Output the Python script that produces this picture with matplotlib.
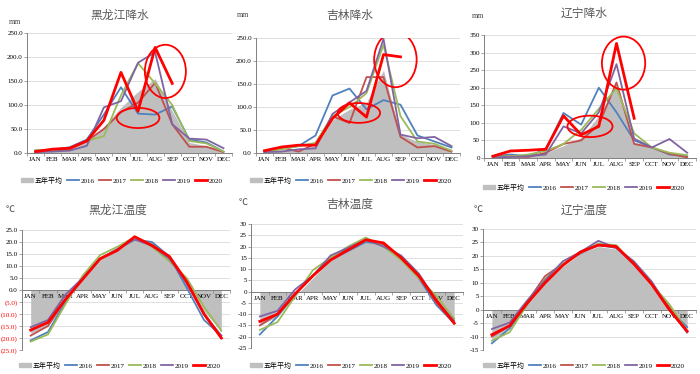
import matplotlib
matplotlib.use('Agg')
import matplotlib.pyplot as plt
from matplotlib.patches import Ellipse, Patch
from matplotlib.lines import Line2D

plt.rcParams['font.family'] = ['Liberation Serif', 'Noto Sans CJK SC']

months = ['JAN', 'FEB', 'MAR', 'APR', 'MAY', 'JUN', 'JUL', 'AUG', 'SEP', 'OCT', 'NOV', 'DEC']
legend_names = ['五年平均', '2016', '2017', '2018', '2019', '2020']

# precipitation (mm); rows = 2016..2020
hlj_rain_avg = [4, 6, 10, 24, 55, 95, 128, 155, 88, 22, 15, 5]
hlj_rain = [[5, 7, 12, 28, 80, 137, 82, 80, 97, 28, 22, 3],
            [3, 5, 8, 25, 50, 85, 105, 146, 60, 13, 13, 2],
            [6, 6, 10, 25, 35, 120, 187, 145, 100, 25, 20, 3],
            [2, 3, 5, 15, 95, 108, 188, 210, 60, 30, 28, 10],
            [3, 8, 10, 25, 68, 168, 87, 220, 145]]

jl_rain_avg = [3, 7, 10, 15, 72, 95, 110, 180, 40, 25, 18, 8]
jl_rain = [[3, 10, 15, 38, 125, 140, 95, 115, 105, 38, 25, 12],
           [2, 12, 3, 20, 80, 65, 165, 165, 35, 12, 15, 3],
           [3, 8, 15, 22, 80, 100, 130, 235, 80, 25, 20, 5],
           [2, 3, 8, 10, 85, 110, 135, 248, 40, 32, 35, 15],
           [5, 13, 17, 17, 75, 109, 78, 214, 209]]

ln_rain_avg = [3, 8, 10, 15, 35, 58, 120, 210, 45, 30, 10, 5]
ln_rain = [[5, 10, 5, 25, 128, 95, 200, 130, 50, 30, 10, 5],
           [3, 5, 3, 15, 40, 50, 95, 215, 40, 30, 12, 2],
           [3, 5, 10, 20, 40, 80, 140, 199, 70, 30, 15, 8],
           [2, 3, 5, 10, 90, 70, 130, 267, 55, 30, 54, 15],
           [5, 20, 22, 25, 120, 66, 90, 326, 113]]

# temperature (C)
hlj_temp_avg = [-18, -15, -5, 5, 13, 17, 21, 19, 13, 4, -9, -17]
hlj_temp = [[-21, -17.5, -5, 5, 13, 17, 21, 20, 14, 1, -12.5, -19],
            [-19, -15, -4, 5, 13, 17, 22, 19, 13.5, 3, -10, -20],
            [-21.5, -18.5, -6, 6, 14.5, 18, 22, 18, 12, 5, -7, -17],
            [-15.5, -12.5, -2, 5, 13, 17, 21, 18.5, 13, 3, -10, -19],
            [-16.7, -13.5, -4, 4.5, 13, 16.5, 22.2, 18.5, 14, 3.5, -10, -20]]

jl_temp_avg = [-15, -11, -2, 6, 14, 18, 22, 21, 14, 6, -4, -13]
jl_temp = [[-19, -11, -1, 7, 14, 18, 22, 21, 15, 6, -6, -14],
           [-15, -10, -1, 7, 15, 19, 23, 21, 15, 7, -5, -14],
           [-17, -13.5, -2, 9.5, 15, 20, 24, 20, 14, 6, -2, -12],
           [-11, -8.5, 1, 7, 16, 19.5, 23, 20, 16, 8, -4, -13],
           [-13.2, -10, -1, 7, 14, 18.5, 23, 21.6, 15, 7, -4, -14]]

ln_temp_avg = [-11, -7, 2, 10, 16, 21, 23.5, 22.5, 17, 10, 1, -7]
ln_temp = [[-12.5, -7, 2, 11, 17, 21, 24, 23, 17, 10, 0, -6.5],
           [-10, -6, 3, 12.5, 17, 21, 24.5, 23, 17.5, 10, 1, -8],
           [-11.5, -8.4, 2, 11.5, 17, 21.5, 24.5, 24, 17, 9.5, 2, -8],
           [-7.2, -4.8, 3.5, 11, 18, 21.5, 25.6, 23, 18, 10.5, 0, -8.5],
           [-9.3, -6, 2.5, 10, 16.5, 21.5, 24, 23.5, 17, 9.5, 0, -8]]

# red circles drawn on the rain charts: (x, y, width, height)
hlj_marks = [(6.0, 73, 2.5, 42), (7.6, 170, 2.4, 111)]
jl_marks = [(5.55, 87, 2.5, 43), (7.7, 203, 2.5, 120)]
ln_marks = [(5.5, 90, 2.55, 61), (7.4, 270, 2.45, 151)]

avg_color = '#BFBFBF'
colors = ['#4F81BD', '#C0504D', '#9BBB59', '#8064A2', '#FF0000']
widths = [1.3, 1.3, 1.3, 1.3, 2.0]
tick_font = 5

W, H = 700, 374
fig = plt.figure(figsize=(W / 100, H / 100), dpi=100)


def px_axes(x0, x1, y0, y1):
    return fig.add_axes([x0 / W, 1 - y1 / H, (x1 - x0) / W, (y1 - y0) / H])


def fig_text(x, y, s, **kw):
    fig.text(x / W, 1 - y / H, s, ha='center', va='center', **kw)


def draw_panel(ax, avg, years, ylim, yticks, ylabels, temp=False):
    x = list(range(12))
    for t in yticks:
        ax.axhline(t, color='#D9D9D9', lw=0.6, zorder=0.2)
    ax.fill_between(x, avg, 0, color=avg_color, lw=0, zorder=1)
    for vals, c, lw in zip(years, colors, widths):
        ax.plot(range(len(vals)), vals, color=c, lw=lw, zorder=3)
    ax.set_xlim(-0.5, 11.5)
    ax.set_ylim(*ylim)
    ax.set_yticks(yticks, ylabels)
    ax.set_xticks(x, months)
    ax.set_xticks([i - 0.5 for i in range(13)], minor=True)
    ax.tick_params(axis='x', which='major', length=0, labelsize=tick_font, pad=3)
    ax.tick_params(axis='x', which='minor', length=2.5, width=0.5, color='#808080')
    ax.tick_params(axis='y', length=2, width=0.5, color='#808080', labelsize=tick_font, pad=1)
    ax.set_axisbelow('line')
    for s in ['top', 'right']:
        ax.spines[s].set_visible(False)
    ax.spines['left'].set_color('#808080')
    ax.spines['left'].set_linewidth(0.7)
    ax.spines['bottom'].set_color('#808080')
    ax.spines['bottom'].set_linewidth(0.7)
    if temp:
        ax.spines['bottom'].set_position(('data', 0))
    ax.patch.set_alpha(0)


def add_marks(ax, marks):
    for (cx, cy, w, h) in marks:
        ax.add_patch(Ellipse((cx, cy), w, h, fill=False, edgecolor='#FF0000', lw=1.3, zorder=4))


def add_legend(cx, cy):
    handles = [Patch(color=avg_color)] + [Line2D([], [], color=c, lw=lw) for c, lw in zip(colors, widths)]
    fig.legend(handles, legend_names, loc='center', bbox_to_anchor=(cx / W, 1 - cy / H),
               ncol=6, frameon=False, fontsize=5, handlelength=1.7, handleheight=0.6,
               columnspacing=0.6, handletextpad=0.3, borderaxespad=0, borderpad=0)


title_kw = dict(fontsize=8.5, color='#595959', family=['Noto Sans CJK SC'])
unit_kw = dict(fontsize=5.5, color='#404040')

# top row: precipitation
ax1 = px_axes(27, 232, 33, 153)
draw_panel(ax1, hlj_rain_avg, hlj_rain, (0, 250), range(0, 251, 50),
           [f'{v:.1f}' for v in range(0, 251, 50)])
add_marks(ax1, hlj_marks)

ax2 = px_axes(256, 460, 38, 153)
draw_panel(ax2, jl_rain_avg, jl_rain, (0, 250), range(0, 251, 50),
           [f'{v:.1f}' for v in range(0, 251, 50)])
add_marks(ax2, jl_marks)

ax3 = px_axes(484, 696, 35, 158)
draw_panel(ax3, ln_rain_avg, ln_rain, (0, 350), range(0, 351, 50),
           [str(v) for v in range(0, 351, 50)])
add_marks(ax3, ln_marks)

# bottom row: temperature
ax4 = px_axes(22, 230, 230, 350)
hlj_ticks = list(range(-25, 26, 5))
hlj_labels = [f'{v:.1f}' if v >= 0 else f'({-v:.1f})' for v in hlj_ticks]
draw_panel(ax4, hlj_temp_avg, hlj_temp, (-25, 25), hlj_ticks, hlj_labels, temp=True)
for lab, v in zip(ax4.get_yticklabels(), hlj_ticks):
    if v < 0:
        lab.set_color('#FF0000')

ax5 = px_axes(251, 463, 224, 348)
draw_panel(ax5, jl_temp_avg, jl_temp, (-25, 30), range(-25, 31, 5),
           [str(v) for v in range(-25, 31, 5)], temp=True)

ax6 = px_axes(483, 696, 229, 350)
draw_panel(ax6, ln_temp_avg, ln_temp, (-15, 30), range(-15, 31, 5),
           [str(v) for v in range(-15, 31, 5)], temp=True)

# titles, units, legends
fig_text(120, 15, '黑龙江降水', **title_kw)
fig_text(350, 15, '吉林降水', **title_kw)
fig_text(584, 13, '辽宁降水', **title_kw)
fig_text(118, 210, '黑龙江温度', **title_kw)
fig_text(350, 204, '吉林温度', **title_kw)
fig_text(584, 210, '辽宁温度', **title_kw)

fig_text(15, 22, 'mm', **unit_kw)
fig_text(243, 15, 'mm', **unit_kw)
fig_text(478, 16, 'mm', **unit_kw)
fig_text(10, 209, '℃', family=['Noto Sans CJK SC'], fontsize=6.5, color='#404040')
fig_text(243, 202, '℃', family=['Noto Sans CJK SC'], fontsize=6.5, color='#404040')
fig_text(478, 209, '℃', family=['Noto Sans CJK SC'], fontsize=6.5, color='#404040')

add_legend(122, 180)
add_legend(351, 180)
add_legend(584, 187)
add_legend(120, 365)
add_legend(351, 365)
add_legend(584, 365)

fig.savefig('out.png', dpi=100)
